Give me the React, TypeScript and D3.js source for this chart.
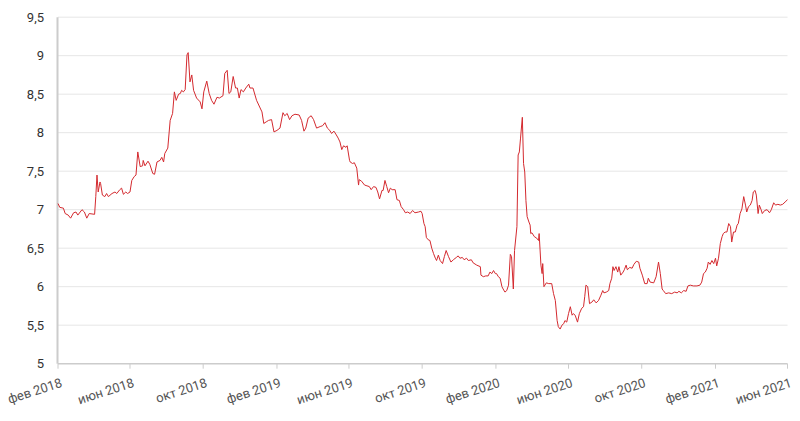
import React from "react";
import * as d3 from "d3";

const dates: string[] = [
"2018-02-01","2018-02-04","2018-02-10","2018-02-13","2018-02-18","2018-02-22","2018-02-27","2018-03-03","2018-03-06","2018-03-13",
"2018-03-17","2018-03-21","2018-03-25","2018-04-03","2018-04-05","2018-04-07","2018-04-09","2018-04-12","2018-04-13","2018-04-16",
"2018-04-20","2018-04-23","2018-04-26","2018-05-02","2018-05-07","2018-05-10","2018-05-15","2018-05-18","2018-05-21","2018-05-25",
"2018-05-28","2018-06-01","2018-06-04","2018-06-08","2018-06-11","2018-06-14","2018-06-18","2018-06-22","2018-06-23","2018-06-26",
"2018-07-01","2018-07-04","2018-07-09","2018-07-12","2018-07-16","2018-07-21","2018-07-24","2018-07-27","2018-07-29","2018-08-03",
"2018-08-07","2018-08-11","2018-08-14","2018-08-17","2018-08-21","2018-08-24","2018-08-26","2018-08-29","2018-09-01","2018-09-04",
"2018-09-06","2018-09-09","2018-09-12","2018-09-15","2018-09-20","2018-09-26","2018-09-29","2018-10-02","2018-10-07","2018-10-11",
"2018-10-15","2018-10-19","2018-10-24","2018-10-28","2018-11-03","2018-11-06","2018-11-10","2018-11-13","2018-11-16","2018-11-20",
"2018-11-24","2018-11-27","2018-11-30","2018-12-03","2018-12-07","2018-12-11","2018-12-16","2018-12-18","2018-12-23","2018-12-29",
"2019-01-07","2019-01-10","2019-01-14","2019-01-18","2019-01-23","2019-01-27","2019-02-01","2019-02-06","2019-02-11","2019-02-14",
"2019-02-18","2019-02-22","2019-02-26","2019-03-03","2019-03-10","2019-03-14","2019-03-18","2019-03-21","2019-03-25","2019-03-30",
"2019-04-03","2019-04-08","2019-04-14","2019-04-18","2019-04-22","2019-04-26","2019-04-30","2019-05-03","2019-05-07","2019-05-11",
"2019-05-14","2019-05-17","2019-05-20","2019-05-23","2019-05-27","2019-05-29","2019-06-02","2019-06-03","2019-06-07","2019-06-10",
"2019-06-14","2019-06-17","2019-06-18","2019-06-22","2019-06-27","2019-07-01","2019-07-05","2019-07-08","2019-07-12","2019-07-16",
"2019-07-19","2019-07-22","2019-07-26","2019-07-28","2019-07-31","2019-08-03","2019-08-06","2019-08-09","2019-08-12","2019-08-17",
"2019-08-20","2019-08-24","2019-08-27","2019-08-31","2019-09-03","2019-09-07","2019-09-11","2019-09-15","2019-09-19","2019-09-25",
"2019-09-29","2019-10-01","2019-10-04","2019-10-06","2019-10-08","2019-10-11","2019-10-14","2019-10-17","2019-10-20","2019-10-23",
"2019-10-25","2019-10-28","2019-10-31","2019-11-04","2019-11-07","2019-11-10","2019-11-14","2019-11-18","2019-11-22","2019-11-27",
"2019-11-30","2019-12-03","2019-12-07","2019-12-10","2019-12-14","2019-12-17","2019-12-22","2019-12-25","2019-12-31","2020-01-06",
"2020-01-07","2020-01-11","2020-01-15","2020-01-19","2020-01-22","2020-01-25","2020-01-28","2020-01-31","2020-02-02","2020-02-05",
"2020-02-08","2020-02-11","2020-02-13","2020-02-16","2020-02-19","2020-02-22","2020-02-25","2020-02-27","2020-03-01","2020-03-03",
"2020-03-07","2020-03-09","2020-03-11","2020-03-13","2020-03-16","2020-03-18","2020-03-20","2020-03-22","2020-03-24","2020-03-27",
"2020-03-29","2020-03-30","2020-04-01","2020-04-05","2020-04-09","2020-04-12","2020-04-13","2020-04-16","2020-04-18","2020-04-19",
"2020-04-21","2020-04-25","2020-04-29","2020-05-04","2020-05-07","2020-05-10","2020-05-13","2020-05-15","2020-05-18","2020-05-21",
"2020-05-24","2020-05-26","2020-05-29","2020-06-01","2020-06-04","2020-06-07","2020-06-09","2020-06-12","2020-06-16","2020-06-19",
"2020-06-23","2020-06-26","2020-06-28","2020-06-30","2020-07-03","2020-07-06","2020-07-10","2020-07-13","2020-07-17","2020-07-21",
"2020-07-25","2020-07-28","2020-07-30","2020-08-03","2020-08-07","2020-08-09","2020-08-12","2020-08-14","2020-08-16","2020-08-19",
"2020-08-22","2020-08-24","2020-08-27","2020-08-31","2020-09-02","2020-09-05","2020-09-07","2020-09-11","2020-09-15","2020-09-18",
"2020-09-22","2020-09-26","2020-09-28","2020-10-02","2020-10-06","2020-10-10","2020-10-12","2020-10-15","2020-10-21","2020-10-25",
"2020-10-29","2020-11-01","2020-11-04","2020-11-06","2020-11-10","2020-11-15","2020-11-20","2020-11-25","2020-11-29","2020-12-02",
"2020-12-06","2020-12-10","2020-12-14","2020-12-17","2020-12-21","2020-12-26","2021-01-01","2021-01-06","2021-01-09","2021-01-12",
"2021-01-15","2021-01-18","2021-01-20","2021-01-23","2021-01-26","2021-01-29","2021-02-01","2021-02-03","2021-02-06","2021-02-09",
"2021-02-12","2021-02-14","2021-02-17","2021-02-20","2021-02-23","2021-02-26","2021-02-28","2021-03-03","2021-03-06","2021-03-09",
"2021-03-11","2021-03-14","2021-03-17","2021-03-20","2021-03-23","2021-03-25","2021-03-28","2021-03-31","2021-04-03","2021-04-05",
"2021-04-08","2021-04-10","2021-04-13","2021-04-15","2021-04-18","2021-04-20","2021-04-24","2021-04-28","2021-05-02","2021-05-05",
"2021-05-09","2021-05-12","2021-05-16","2021-05-20","2021-05-24","2021-05-28","2021-06-01"
];

const values: number[] = [
7.08,7.03,7.02,6.95,6.93,6.89,6.96,6.97,6.93,7.00,
6.97,6.89,6.95,6.94,7.17,7.45,7.23,7.36,7.34,7.19,
7.17,7.21,7.17,7.21,7.23,7.21,7.26,7.28,7.20,7.23,
7.21,7.23,7.38,7.43,7.45,7.75,7.56,7.57,7.64,7.57,
7.63,7.59,7.47,7.46,7.62,7.64,7.68,7.62,7.73,7.80,
8.16,8.25,8.53,8.42,8.50,8.51,8.55,8.53,8.56,9.01,
9.04,8.66,8.75,8.55,8.45,8.40,8.31,8.53,8.67,8.51,
8.42,8.37,8.46,8.45,8.48,8.77,8.81,8.51,8.53,8.73,
8.58,8.58,8.45,8.56,8.53,8.58,8.63,8.58,8.58,8.42,
8.27,8.12,8.14,8.16,8.17,8.01,8.03,8.06,8.26,8.22,
8.25,8.17,8.22,8.24,8.23,8.16,8.02,8.06,8.19,8.22,
8.17,8.06,8.08,8.09,8.13,8.06,8.03,7.99,8.02,7.97,
7.93,7.88,7.78,7.83,7.81,7.83,7.64,7.62,7.60,7.61,
7.54,7.32,7.39,7.37,7.32,7.31,7.30,7.26,7.30,7.29,
7.23,7.14,7.25,7.25,7.38,7.30,7.22,7.28,7.26,7.26,
7.13,7.12,7.04,7.00,6.96,6.97,6.95,6.99,6.96,6.97,
6.98,6.95,6.82,6.78,6.64,6.61,6.60,6.50,6.43,6.37,
6.34,6.41,6.34,6.30,6.39,6.47,6.39,6.32,6.35,6.38,
6.40,6.37,6.38,6.35,6.37,6.34,6.35,6.31,6.28,6.26,
6.15,6.13,6.14,6.14,6.19,6.17,6.21,6.17,6.17,6.13,
6.11,6.00,5.97,5.93,5.95,6.02,6.42,6.39,5.97,6.47,
6.78,7.71,7.75,7.93,8.20,7.60,7.49,7.12,6.91,6.84,
6.80,6.69,6.70,6.65,6.63,6.60,6.69,6.28,6.17,6.30,
6.00,6.05,6.04,6.04,5.91,5.82,5.56,5.48,5.45,5.50,
5.52,5.56,5.54,5.65,5.74,5.63,5.65,5.63,5.54,5.65,
5.72,5.74,5.87,6.02,6.00,5.78,5.80,5.83,5.79,5.82,
5.89,5.95,5.92,5.93,5.95,6.04,6.11,6.26,6.21,6.26,
6.19,6.26,6.15,6.19,6.22,6.28,6.22,6.25,6.24,6.29,
6.33,6.32,6.24,6.15,6.04,6.04,6.11,6.06,6.05,6.13,
6.32,6.17,5.97,5.95,5.91,5.92,5.91,5.93,5.92,5.94,
5.92,5.95,5.94,6.01,6.02,6.01,6.01,6.02,6.06,6.17,
6.19,6.24,6.32,6.29,6.34,6.30,6.37,6.27,6.37,6.56,
6.65,6.69,6.71,6.71,6.82,6.78,6.58,6.71,6.71,6.80,
6.82,6.95,7.01,7.17,7.06,6.97,7.04,7.06,7.12,7.23,
7.25,7.19,6.95,7.06,7.00,6.95,6.99,7.00,6.96,7.00,
7.09,7.06,7.07,7.06,7.07,7.10,7.13
];

const yTicks: number[] = [5, 5.5, 6, 6.5, 7, 7.5, 8, 8.5, 9, 9.5];
const monthNames: string[] = ["янв","фев","мар","апр","май","июн","июл","авг","сен","окт","ноя","дек"];
const xTickDates: string[] = ["2018-02-01","2018-06-01","2018-10-01","2019-02-01","2019-06-01","2019-10-01","2020-02-01","2020-06-01","2020-10-01","2021-02-01","2021-06-01"];

const W = 800, H = 421;
const left = 58, right = 787.5, top = 17.2, bottom = 363.7;

export default function App() {
  const parse = d3.timeParse("%Y-%m-%d");
  const data = dates.map((d, i) => ({ date: parse(d)!, value: values[i] }));
  const x = d3.scaleTime().domain([parse("2018-02-01")!, parse("2021-06-01")!]).range([left, right]);
  const y = d3.scaleLinear().domain([5, 9.5]).range([bottom, top]);
  const line = d3.line<{ date: Date; value: number }>().x(d => x(d.date)).y(d => y(d.value)).curve(d3.curveLinear);
  const fmt = (v: number) => String(v).replace(".", ",");
  const font = "Roboto, 'Noto Sans', sans-serif";
  return (
    <svg width={W} height={H} style={{ position: "absolute", left: 0, top: 0, background: "#fff" }} fontFamily={font}>
      {yTicks.filter(t => t > 5).map(t => (
        <line key={"g" + t} x1={left} x2={right} y1={y(t)} y2={y(t)} stroke="#e6e6e6" strokeWidth={1} />
      ))}
      {yTicks.map(t => (
        <text key={"yl" + t} x={44} y={y(t)} dy="0.35em" textAnchor="end" fontSize={13} fill="#333">{fmt(t)}</text>
      ))}
      <line x1={left} x2={right} y1={bottom} y2={bottom} stroke="#cccccc" strokeWidth={1.5} />
      <line x1={left - 0.5} x2={left - 0.5} y1={top} y2={bottom} stroke="#cccccc" strokeWidth={2} />
      {xTickDates.map(s => {
        const d = parse(s)!;
        const xp = x(d);
        return (
          <g key={"xt" + s}>
            <line x1={xp} x2={xp} y1={bottom} y2={bottom + 5} stroke="#cccccc" strokeWidth={1} />
            <text transform={`translate(${xp + 2},${bottom + 14}) rotate(-18)`} dy="0.71em" textAnchor="end" fontSize={13} fill="#555">
              {monthNames[d.getMonth()] + " " + d.getFullYear()}
            </text>
          </g>
        );
      })}
      <path d={line(data) || ""} fill="none" stroke="#d42a2f" strokeWidth={1} strokeLinejoin="round" />
    </svg>
  );
}
